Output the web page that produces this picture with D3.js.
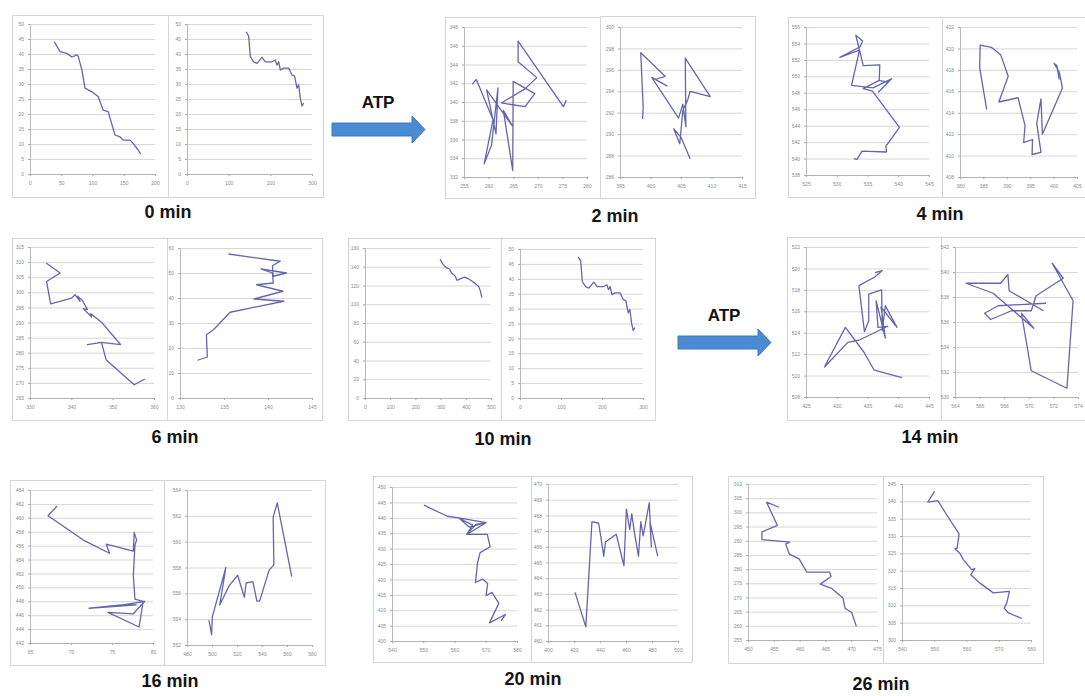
<!DOCTYPE html>
<html>
<head>
<meta charset="utf-8">
<script src="https://cdn.jsdelivr.net/npm/d3@7"></script>
<style>
  body { margin: 0; background: #fff; }
  svg { display: block; }
</style>
</head>
<body>
<svg></svg>
<script>
// ---- trajectories, [x, y] ----
const t0L = [[39,44.1],[48,40.8],[59,40.2],[67,39],[75,39.7],[77,39.3],[83,34.7],[88,28.6],[99,27.4],[109,25.8],[117,21.3],[125,20.8],[136,13],[144,12.4],[149,11.3],[160,11.3],[165,10.2],[173,8],[177,6.7]];
const t0R = [[142,47.4],[148,46],[152,39.1],[160,37.4],[168,36.9],[180,38.9],[188,37.4],[204,37.4],[212,38],[216,36.3],[220,37.4],[224,34.7],[232,35.3],[244,35.3],[252,33],[258,32.7],[264,28.6],[268,29.7],[272,25.2],[276,22.7],[280,23.6]];
const t2L = [[256.7,341.9],[257.5,342.4],[260.9,338.1],[259.1,333.4],[260.6,335.4],[261.9,341.5],[261.5,336.6],[259.6,341.3],[264.9,337.4],[263,339.1],[264.9,332.7],[265,342.2],[269.4,340.9],[267.4,339.5],[262.6,339.9],[267.4,341.4],[269.8,342.6],[266,344.3],[266,346.5],[275.2,339.5],[275.8,340.2]];
const t2R = [[398.7,291.4],[398.8,292.5],[398.4,297.6],[402.4,295.4],[400.8,295.1],[402.7,294.5],[400.2,295.3],[404.6,291.5],[405.3,292.8],[405.8,290.7],[405.7,297.1],[409.8,293.5],[406.5,294],[406.1,293.2],[405.3,292.2],[404.8,289.1],[403.8,290.5],[405,289.7],[406.5,287.7]];
const t4L = [[532.8,540],[533.3,539.9],[534.1,540.9],[538.1,540.8],[538,541.5],[540.2,543.8],[535.8,548.2],[534.3,548.5],[536.9,549.5],[537,551.4],[534.3,551.3],[533.7,553.2],[530.5,552.3],[533.8,553.6],[534.2,554.3],[533.1,555],[533.7,553.2],[532.4,548.9],[535.9,548.6],[538.9,549.7],[536.8,548.1],[538.4,549.3],[536.8,549.5]];
const t4R = [[385.7,414.3],[384.2,418.2],[384.3,420.3],[386.7,420.1],[388.7,419.4],[390.3,417.4],[388.3,415],[392.4,415.4],[393.9,412.8],[393.6,411.2],[395.5,411.5],[395.4,410.1],[397.3,410.3],[396.4,413],[397.3,415.3],[397.6,412],[401.9,416.3],[401.2,417.8],[400.1,418.6],[400.7,418.4],[401.2,417.1]];
const t6L = [[333.9,309.7],[337.3,306.4],[334,303.6],[335,296.2],[340.1,298.1],[340.9,299.2],[342.1,297],[341.5,298.7],[342.7,297.3],[343.9,294.3],[342.9,294.6],[344.9,291.8],[344.7,292.9],[347.3,290.1],[351.9,282.7],[347.3,283.4],[343.9,282.7],[347.3,283.4],[348.4,277.7],[355.2,269.4],[357.8,271.3]];
const t6R = [[132,15.1],[133.1,16.4],[133,25.3],[133.8,27.3],[135.7,34.3],[141.8,38.7],[138.4,39.6],[141.7,42.7],[138.7,45.3],[140.6,46],[140.5,50],[139.2,51.6],[142.1,50],[140.6,48.7],[140.5,52.9],[141.4,54.7],[135.5,57.6]];
const t10L = [[298,148],[311,142],[324,138.7],[335,137.6],[345,133],[358,130],[365,125.5],[378,127],[394,128.9],[411,127],[424,124.8],[438,122],[451,119],[458,114],[464,107]];
const t10R = [[142,47.4],[148,46],[152,39.1],[160,37.4],[168,36.9],[180,38.9],[188,37.4],[204,37.4],[212,38],[216,36.3],[220,37.4],[224,34.7],[232,35.3],[244,35.3],[252,33],[258,32.7],[264,28.6],[268,29.7],[272,25.2],[276,22.7],[280,23.6]];
const t14L = [[440.6,509.8],[436.1,510.5],[434.4,512.2],[431.4,514.5],[428,510.8],[431.8,513.1],[433.6,513.3],[438.3,514.6],[436.7,514.5],[436.4,517],[437.9,513.5],[437.2,516.4],[439.8,514.5],[437.9,516.5],[437.4,514.2],[437.3,518],[435.2,517.6],[435.2,515.1],[434.5,514.1],[433.6,518.4],[436.2,519.2],[437.4,519.8],[436.2,519.6]];
const t14R = [[571.2,536.9],[568.4,538.5],[568.3,539.8],[567.7,539.1],[564.9,539.1],[567.1,538.3],[570.4,535.5],[569.4,536.7],[570.2,532.1],[573.1,530.7],[573.6,537.7],[571.9,540.7],[572.8,539.5],[570.6,538.1],[570.2,536.9],[568.6,536.9],[566.9,536.2],[566.4,536.7],[567.5,537.3],[571.4,537.5]];
const t16L = [[68.3,461.7],[67.2,460.3],[71.5,456.8],[74.7,454.9],[74.3,456.2],[77.6,455.2],[77.7,457.9],[78,456.8],[77.8,456.1],[77.6,451.7],[77.8,448.3],[78.8,448],[78.3,444.3],[74.5,446.4],[77.6,446.2],[79,448],[76.5,447.5],[72.2,447],[78,447.5]];
const t16R = [[497.6,553.9],[499.7,552.8],[500.3,554.2],[511.1,558],[506.2,555.1],[513.8,556.6],[520.5,557.4],[525.9,555.7],[527.3,556.8],[532.7,556.9],[535.9,555.4],[538.1,555.4],[545.7,557.8],[549.5,558.2],[548.9,561.9],[552.2,563],[563.8,557.3]];
const t20L = [[550.2,444.1],[557.7,440.5],[561.3,440],[570.1,438.4],[566.9,437.9],[563.9,434.6],[565.8,437.6],[561.3,440],[564.7,437],[570.1,438.4],[563.9,434.6],[570.5,434.6],[571.4,430.6],[568.2,428.7],[567.4,425.5],[566.7,419],[569,420.1],[570.6,418.7],[570.1,414.7],[572,415.8],[574.2,412.2],[572.8,409.3],[571.2,405.9],[576.3,408.6],[574.9,406.5]];
const t20R = [[420.8,463.1],[429.1,460.9],[433.8,467.6],[439,467.5],[442.9,465.4],[444.2,466.3],[452.5,466.8],[458.4,464.8],[460.3,468.4],[462.9,467.1],[464.4,468.1],[466.5,466.9],[469.6,465.4],[471.4,467.6],[473.2,466.7],[477.9,468.8],[479.5,466],[478.4,467.6],[484.4,465.4]];
const t26L = [[456,301.8],[453.6,303.6],[455.7,295.4],[452.7,293.1],[452.7,290.4],[458.1,289.5],[457.3,288.8],[458,285.3],[459.9,283.6],[461.4,278.9],[465.8,278.9],[466.1,277.4],[464,274.7],[466.3,273.1],[468.4,269.8],[468.8,266.2],[470.1,264.7],[471,259.8]];
const t26R = [[550.1,342.9],[548,339.8],[551.1,340.2],[553.8,336.2],[557.7,330.6],[557.1,326.5],[556.4,326.3],[557.9,325.1],[559,323.2],[561.6,320.3],[562.6,320.6],[561.3,318.8],[564.2,316.4],[568.3,313.6],[573.3,314],[572.5,310.7],[571.7,309.2],[573,307.8],[577.2,306.2]];

// ---- tick labels ----
const x0L = [0,50,100,150,200];
const y0L = [0,5,10,15,20,25,30,35,40,45,50];
const x0R = [0,100,200,300];
const y0R = [0,5,10,15,20,25,30,35,40,45,50];
const x2L = [255,260,265,270,275,280];
const y2L = [332,334,336,338,340,342,344,346,348];
const x2R = [395,400,405,410,415];
const y2R = [286,288,290,292,294,296,298,300];
const x4L = [525,530,535,540,545];
const y4L = [538,540,542,544,546,548,550,552,554,556];
const x4R = [380,385,390,395,400,405];
const y4R = [408,410,412,414,416,418,420,422];
const x6L = [330,340,350,360];
const y6L = [265,270,275,280,285,290,295,300,305,310,315];
const x6R = [130,135,140,145];
const y6R = [0,10,20,30,40,50,60];
const x10L = [0,100,200,300,400,500];
const y10L = [0,20,40,60,80,100,120,140,160];
const x10R = [0,100,200,300];
const y10R = [0,5,10,15,20,25,30,35,40,45,50];
const x14L = [425,430,435,440,445];
const y14L = [508,510,512,514,516,518,520,522];
const x14R = [564,566,568,570,572,574];
const y14R = [530,532,534,536,538,540,542];
const x16L = [65,70,75,80];
const y16L = [442,444,446,448,450,452,454,456,458,460,462,464];
const x16R = [480,500,520,540,560,580];
const y16R = [552,554,556,558,560,562,564];
const x20L = [540,550,560,570,580];
const y20L = [400,405,410,415,420,425,430,435,440,445,450];
const x20R = [400,420,440,460,480,500];
const y20R = [460,461,462,463,464,465,466,467,468,469,470];
const x26L = [450,455,460,465,470,475];
const y26L = [255,260,265,270,275,280,285,290,295,300,305,310];
const x26R = [540,550,560,570,580];
const y26R = [300,305,310,315,320,325,330,335,340,345];

// ---- layout: box and plot area [left, top, right, bottom] ----
const panels = [
  { label: "0 min", lx: 168, ly: 218, charts: [
    { data: t0L, xt: x0L, yt: y0L, box: [12, 15, 168, 197], plot: [30, 24, 155, 174] },
    { data: t0R, xt: x0R, yt: y0R, box: [168, 15, 323, 197], plot: [187, 24, 312, 174] } ] },
  { label: "2 min", lx: 615, ly: 222, charts: [
    { data: t2L, xt: x2L, yt: y2L, box: [445, 17, 600, 198], plot: [464, 27, 587, 177] },
    { data: t2R, xt: x2R, yt: y2R, box: [600, 16, 755, 198], plot: [620, 27, 742, 177] } ] },
  { label: "4 min", lx: 940, ly: 220, charts: [
    { data: t4L, xt: x4L, yt: y4L, box: [788, 17, 942, 197], plot: [806, 27, 929, 175] },
    { data: t4R, xt: x4R, yt: y4R, box: [942, 17, 1100, 197], plot: [960, 27, 1077, 177] } ] },
  { label: "6 min", lx: 175, ly: 443, charts: [
    { data: t6L, xt: x6L, yt: y6L, box: [12, 238, 167, 420], plot: [30, 247, 154, 398] },
    { data: t6R, xt: x6R, yt: y6R, box: [167, 238, 322, 420], plot: [180, 248, 312, 398] } ] },
  { label: "10 min", lx: 503, ly: 445, charts: [
    { data: t10L, xt: x10L, yt: y10L, box: [348, 238, 501, 420], plot: [365, 248, 491, 398] },
    { data: t10R, xt: x10R, yt: y10R, box: [501, 238, 655, 420], plot: [520, 249, 643, 398] } ] },
  { label: "14 min", lx: 930, ly: 443, charts: [
    { data: t14L, xt: x14L, yt: y14L, box: [787, 237, 941, 420], plot: [806, 247, 929, 397] },
    { data: t14R, xt: x14R, yt: y14R, box: [941, 237, 1100, 420], plot: [955, 247, 1078, 397] } ] },
  { label: "16 min", lx: 170, ly: 687, charts: [
    { data: t16L, xt: x16L, yt: y16L, box: [10, 480, 164, 665], plot: [30, 490, 153, 643] },
    { data: t16R, xt: x16R, yt: y16R, box: [164, 480, 325, 665], plot: [187, 490, 312, 645] } ] },
  { label: "20 min", lx: 533, ly: 685, charts: [
    { data: t20L, xt: x20L, yt: y20L, box: [373, 476, 531, 662], plot: [392, 487, 517, 641] },
    { data: t20R, xt: x20R, yt: y20R, box: [531, 476, 692, 662], plot: [548, 484, 678, 641] } ] },
  { label: "26 min", lx: 881, ly: 690, charts: [
    { data: t26L, xt: x26L, yt: y26L, box: [728, 476, 883, 663], plot: [748, 484, 877, 640] },
    { data: t26R, xt: x26R, yt: y26R, box: [883, 476, 1043, 663], plot: [902, 484, 1031, 640] } ] }
];

const arrows = [[332, 129.5], [678, 342.5]];

const width = 1085, height = 696;
const svg = d3.select("svg").attr("width", width).attr("height", height);

function drawChart(c) {
  const [bx0, by0, bx1, by1] = c.box;
  const [pl, pt, pr, pb] = c.plot;
  const g = svg.append("g");

  g.append("rect")
    .attr("x", bx0 + 0.5).attr("y", by0 + 0.5)
    .attr("width", bx1 - bx0).attr("height", by1 - by0)
    .attr("fill", "#fff").attr("stroke", "#d4d4d4");

  const x = d3.scaleLinear().domain(d3.extent(c.xt)).range([pl, pr]);
  const y = d3.scaleLinear().domain(d3.extent(c.yt)).range([pb, pt]);

  // gridlines
  g.append("g")
    .attr("transform", `translate(${pl},0)`)
    .call(d3.axisLeft(y).tickValues(c.yt).tickSize(-(pr - pl)).tickSizeOuter(0).tickFormat(""))
    .call(a => a.select(".domain").remove())
    .selectAll("line").attr("stroke", "#cbcbcb").attr("stroke-width", 0.8);

  // y axis
  g.append("g")
    .attr("transform", `translate(${pl},0)`)
    .call(d3.axisLeft(y).tickValues(c.yt).tickSize(2).tickSizeOuter(0).tickPadding(4))
    .call(a => a.select(".domain").attr("stroke", "#a8a8a8").attr("stroke-width", 0.8))
    .call(a => a.selectAll("line").attr("stroke", "#a8a8a8"))
    .call(a => a.selectAll("text").attr("fill", "#8a8a8a").attr("font-size", 5)
      .attr("font-family", "Liberation Sans, Arial, sans-serif"));

  // x axis
  g.append("g")
    .attr("transform", `translate(0,${pb})`)
    .call(d3.axisBottom(x).tickValues(c.xt).tickSize(2).tickSizeOuter(0).tickPadding(5))
    .call(a => a.select(".domain").attr("stroke", "#a8a8a8").attr("stroke-width", 0.8))
    .call(a => a.selectAll("line").attr("stroke", "#a8a8a8"))
    .call(a => a.selectAll("text").attr("fill", "#8a8a8a").attr("font-size", 5)
      .attr("font-family", "Liberation Sans, Arial, sans-serif"));

  const line = d3.line().x(d => x(d[0])).y(d => y(d[1]));
  g.append("path")
    .attr("d", line(c.data))
    .attr("fill", "none")
    .attr("stroke", "#6466ac")
    .attr("stroke-width", 1.3)
    .attr("stroke-linejoin", "round");
}

panels.forEach(p => {
  p.charts.forEach(drawChart);
  svg.append("text")
    .attr("x", p.lx).attr("y", p.ly)
    .attr("text-anchor", "middle")
    .attr("font-family", "Liberation Sans, Arial, sans-serif")
    .attr("font-weight", "bold")
    .attr("font-size", 18)
    .attr("fill", "#151515")
    .text(p.label);
});

// ATP arrows
arrows.forEach(([ax, ay]) => {
  const pts = [[ax, ay - 6.5], [ax + 80, ay - 6.5], [ax + 80, ay - 13.5], [ax + 93, ay],
    [ax + 80, ay + 13.5], [ax + 80, ay + 6.5], [ax, ay + 6.5]];
  svg.append("path")
    .attr("d", d3.line()(pts) + "Z")
    .attr("fill", "#4a8bd3")
    .attr("stroke", "#3c78bb")
    .attr("stroke-width", 1);
  svg.append("text")
    .attr("x", ax + 46).attr("y", ay - 21.5)
    .attr("text-anchor", "middle")
    .attr("font-family", "Liberation Sans, Arial, sans-serif")
    .attr("font-weight", "bold")
    .attr("font-size", 17)
    .attr("fill", "#111")
    .text("ATP");
});
</script>
</body>
</html>
